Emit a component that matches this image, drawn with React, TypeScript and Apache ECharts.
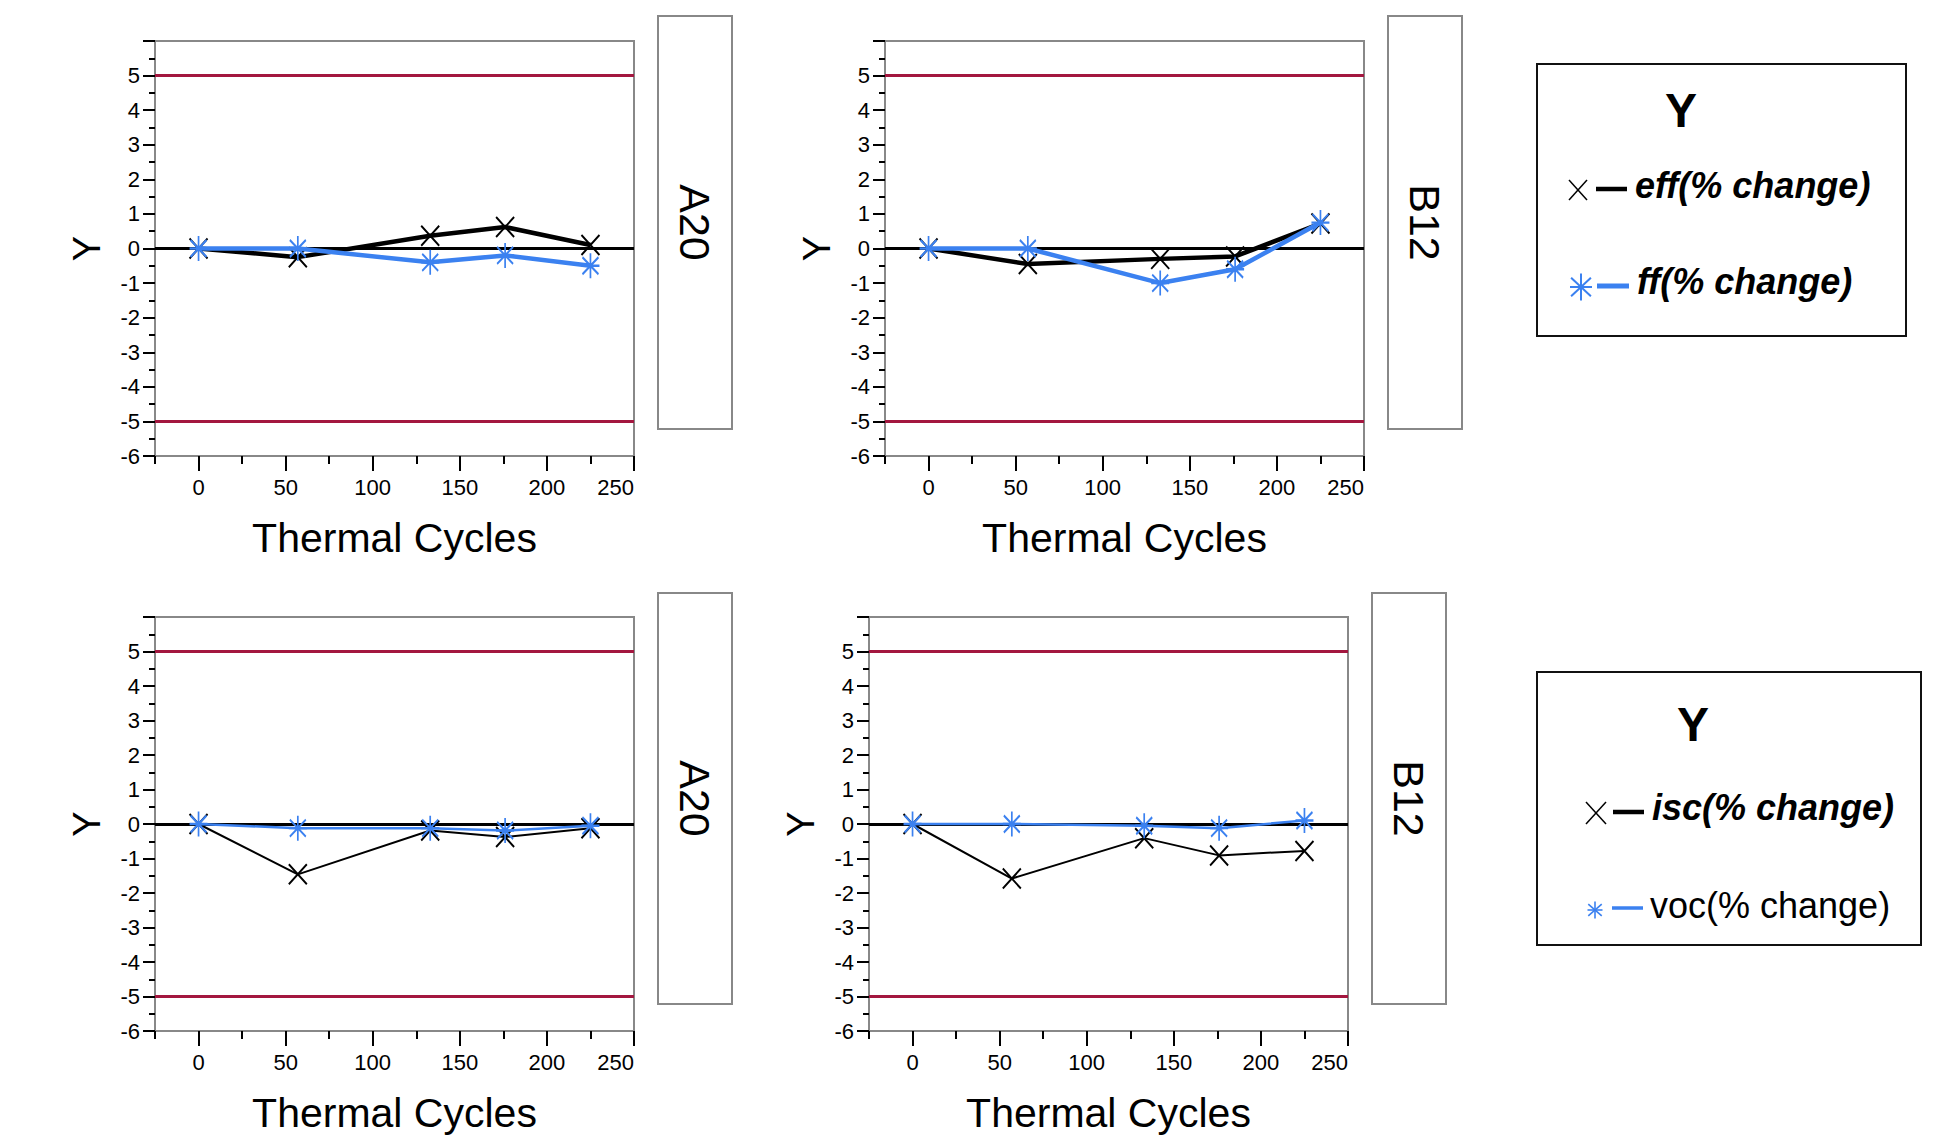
import React, { useEffect, useRef } from "react";
import * as echarts from "echarts";

// ---------- data ----------
const cycles = [0, 57, 133, 176, 225];
const a20Eff = [0, -0.25, 0.37, 0.62, 0.1];
const a20Ff = [0, 0, -0.4, -0.2, -0.5];
const b12Eff = [0, -0.45, -0.3, -0.23, 0.72];
const b12Ff = [0, 0, -1.0, -0.6, 0.75];
const a20Isc = [0, -1.46, -0.19, -0.38, -0.12];
const a20Voc = [0, -0.12, -0.12, -0.19, -0.05];
const b12Isc = [0, -1.58, -0.41, -0.91, -0.78];
const b12Voc = [0, 0, -0.05, -0.12, 0.1];
const limitLines = [5, -5];
const zeroLine = 0;
const xMajorTicks = [0, 50, 100, 150, 200, 250];
const panelLabels = ["A20", "B12", "A20", "B12"];
const legendTopNames = ["eff(% change)", "ff(% change)"];
const legendBottomNames = ["isc(% change)", "voc(% change)"];
const legendTitle = "Y";
const xName = "Thermal Cycles";
const yName = "Y";

// ---------- style ----------
const BLUE = "#3b81f0";
const RED = "#a3173f";
const GRAY = "#888888";
const NARROW = "'Liberation Sans Narrow', 'Arial Narrow', 'Liberation Sans', sans-serif";
const SANS = "'Liberation Sans', Arial, sans-serif";
const X_PATH = "path://M0,0L18,20M0,20L18,0";
const AST_PATH = "path://M9,0L9,25M0,12.5L18,12.5M1,4L17,21M1,21L17,4";

const grids = [
  { left: 155, top: 41, width: 479, height: 415 },
  { left: 885, top: 41, width: 479, height: 415 },
  { left: 155, top: 617, width: 479, height: 414 },
  { left: 869, top: 617, width: 479, height: 414 },
];
const strips = [
  { x: 658, y: 16, w: 74, h: 413 },
  { x: 1388, y: 16, w: 74, h: 413 },
  { x: 658, y: 593, w: 74, h: 411 },
  { x: 1372, y: 593, w: 74, h: 411 },
];
const panelSeries = [
  { black: a20Eff, blue: a20Ff, bw: 4.5, lw: 4.5 },
  { black: b12Eff, blue: b12Ff, bw: 4.5, lw: 4.5 },
  { black: a20Isc, blue: a20Voc, bw: 2, lw: 2.5 },
  { black: b12Isc, blue: b12Voc, bw: 2, lw: 2.5 },
];

function xMarker(cx: number, cy: number, w: number, h: number, color: string, lw: number) {
  return [
    { type: "line", shape: { x1: cx - w / 2, y1: cy - h / 2, x2: cx + w / 2, y2: cy + h / 2 }, style: { stroke: color, lineWidth: lw } },
    { type: "line", shape: { x1: cx - w / 2, y1: cy + h / 2, x2: cx + w / 2, y2: cy - h / 2 }, style: { stroke: color, lineWidth: lw } },
  ];
}
function astMarker(cx: number, cy: number, w: number, h: number, color: string, lw: number) {
  const dx = w / 2;
  const dy = h / 2;
  return [
    { type: "line", shape: { x1: cx, y1: cy - dy, x2: cx, y2: cy + dy }, style: { stroke: color, lineWidth: lw } },
    { type: "line", shape: { x1: cx - dx, y1: cy, x2: cx + dx, y2: cy }, style: { stroke: color, lineWidth: lw } },
    { type: "line", shape: { x1: cx - dx * 0.9, y1: cy - dy * 0.68, x2: cx + dx * 0.9, y2: cy + dy * 0.68 }, style: { stroke: color, lineWidth: lw } },
    { type: "line", shape: { x1: cx - dx * 0.9, y1: cy + dy * 0.68, x2: cx + dx * 0.9, y2: cy - dy * 0.68 }, style: { stroke: color, lineWidth: lw } },
  ];
}
function segment(x1: number, x2: number, y: number, color: string, lw: number) {
  return { type: "line", shape: { x1, y1: y, x2, y2: y }, style: { stroke: color, lineWidth: lw } };
}
function label(text: string, x: number, y: number, size: number, weight: string, italic: boolean, align = "left") {
  return {
    type: "text",
    x,
    y,
    style: {
      text,
      fill: "#000",
      fontSize: size,
      fontWeight: weight,
      fontStyle: italic ? "italic" : "normal",
      fontFamily: SANS,
      align,
      verticalAlign: "middle",
    },
  };
}

export default function App() {
  const ref = useRef<HTMLDivElement>(null);

  useEffect(() => {
    if (!ref.current) return;
    const chart = echarts.init(ref.current, null, { renderer: "svg" });

    const xAxes: any[] = [];
    const yAxes: any[] = [];
    const series: any[] = [];

    grids.forEach((g, i) => {
      xAxes.push({
        type: "value",
        gridIndex: i,
        min: -25,
        max: 250,
        interval: 25,
        position: "bottom",
        axisLine: { show: true, onZero: false, lineStyle: { color: GRAY, width: 2 } },
        axisTick: { show: true, length: 8, lineStyle: { color: "#000", width: 2 } },
        axisLabel: {
          formatter: (v: number) => (v >= 0 && v % 50 === 0 ? String(v) : ""),
          margin: 20,
          fontSize: 22,
          fontFamily: NARROW,
          color: "#000",
          alignMaxLabel: "right",
        },
        splitLine: { show: false },
        name: xName,
        nameLocation: "middle",
        nameGap: 61,
        nameTextStyle: { fontSize: 41, fontFamily: NARROW, color: "#000" },
      });
      xAxes.push({
        type: "value",
        gridIndex: i,
        min: -25,
        max: 250,
        position: "bottom",
        axisLine: { show: false, onZero: false },
        axisTick: { show: true, length: 15, customValues: xMajorTicks, lineStyle: { color: "#000", width: 2 } },
        axisLabel: { show: false },
        splitLine: { show: false },
      });
      yAxes.push({
        type: "value",
        gridIndex: i,
        min: -6,
        max: 6,
        interval: 1,
        axisLine: { show: true, onZero: false, lineStyle: { color: GRAY, width: 2 } },
        axisTick: { show: true, length: 12, lineStyle: { color: "#000", width: 2 } },
        minorTick: { show: true, splitNumber: 2, length: 6, lineStyle: { color: "#000", width: 2 } },
        axisLabel: {
          formatter: (v: number) => (v === 6 ? "" : String(v)),
          margin: 15,
          fontSize: 22,
          fontFamily: NARROW,
          color: "#000",
        },
        splitLine: { show: false },
        minorSplitLine: { show: false },
        name: yName,
        nameLocation: "middle",
        nameGap: 49,
        nameTextStyle: { fontSize: 38, fontFamily: SANS, color: "#000" },
      });

      const ps = panelSeries[i];
      series.push({
        type: "line",
        xAxisIndex: 2 * i,
        yAxisIndex: i,
        data: cycles.map((c, k) => [c, ps.black[k]]),
        symbol: X_PATH,
        symbolSize: [18, 20],
        showSymbol: true,
        itemStyle: { color: "transparent", borderColor: "#000", borderWidth: 2 },
        lineStyle: { color: "#000", width: ps.bw },
        z: 3,
        silent: true,
        markLine: {
          silent: true,
          symbol: "none",
          z: 1,
          label: { show: false },
          data: [
            ...limitLines.map((v) => ({ yAxis: v, lineStyle: { color: RED, width: 3, type: "solid" } })),
            { yAxis: zeroLine, lineStyle: { color: "#000", width: 3, type: "solid" } },
          ],
        },
      });
      series.push({
        type: "line",
        xAxisIndex: 2 * i,
        yAxisIndex: i,
        data: cycles.map((c, k) => [c, ps.blue[k]]),
        symbol: AST_PATH,
        symbolSize: [18, 25],
        showSymbol: true,
        itemStyle: { color: "transparent", borderColor: BLUE, borderWidth: 2 },
        lineStyle: { color: BLUE, width: ps.lw },
        z: 4,
        silent: true,
      });
    });

    const graphics: any[] = [];
    strips.forEach((s, i) => {
      graphics.push({
        type: "rect",
        shape: { x: s.x, y: s.y, width: s.w, height: s.h },
        style: { fill: "#fff", stroke: GRAY, lineWidth: 2 },
      });
      graphics.push({
        type: "text",
        x: s.x + s.w / 2,
        y: s.y + s.h / 2,
        rotation: -Math.PI / 2,
        style: {
          text: panelLabels[i],
          fill: "#000",
          fontSize: 43,
          fontFamily: SANS,
          align: "center",
          verticalAlign: "middle",
        },
      });
    });

    // legend 1
    graphics.push({ type: "rect", shape: { x: 1537, y: 64, width: 369, height: 272 }, style: { fill: "#fff", stroke: "#111", lineWidth: 2 } });
    graphics.push(label(legendTitle, 1681, 110, 48, "bold", false, "center"));
    graphics.push(...xMarker(1578, 190, 18, 20, "#000", 1.5));
    graphics.push(segment(1596, 1627, 189, "#000", 4.5));
    graphics.push(label(legendTopNames[0], 1635, 185, 36, "bold", true));
    graphics.push(...astMarker(1581, 287, 22, 27, BLUE, 2));
    graphics.push(segment(1597, 1629, 286, BLUE, 5));
    graphics.push(label(legendTopNames[1], 1637, 281, 36, "bold", true));

    // legend 2
    graphics.push({ type: "rect", shape: { x: 1537, y: 672, width: 384, height: 273 }, style: { fill: "#fff", stroke: "#111", lineWidth: 2 } });
    graphics.push(label(legendTitle, 1693, 724, 48, "bold", false, "center"));
    graphics.push(...xMarker(1596, 813, 20, 22, "#000", 1.5));
    graphics.push(segment(1613, 1644, 812, "#000", 4.5));
    graphics.push(label(legendBottomNames[0], 1652, 807, 36, "bold", true));
    graphics.push(...astMarker(1595, 910, 15, 17, BLUE, 1.6));
    graphics.push(segment(1612, 1643, 908, BLUE, 3.5));
    graphics.push(label(legendBottomNames[1], 1650, 905, 36, "normal", false));

    chart.setOption({
      animation: false,
      backgroundColor: "#fff",
      grid: grids.map((g) => ({ ...g, show: true, borderColor: GRAY, borderWidth: 2, backgroundColor: "transparent" })),
      xAxis: xAxes,
      yAxis: yAxes,
      series,
      graphic: graphics,
    });

    return () => chart.dispose();
  }, []);

  return <div ref={ref} style={{ position: "absolute", left: 0, top: 0, width: 1937, height: 1140, background: "#fff" }} />;
}
